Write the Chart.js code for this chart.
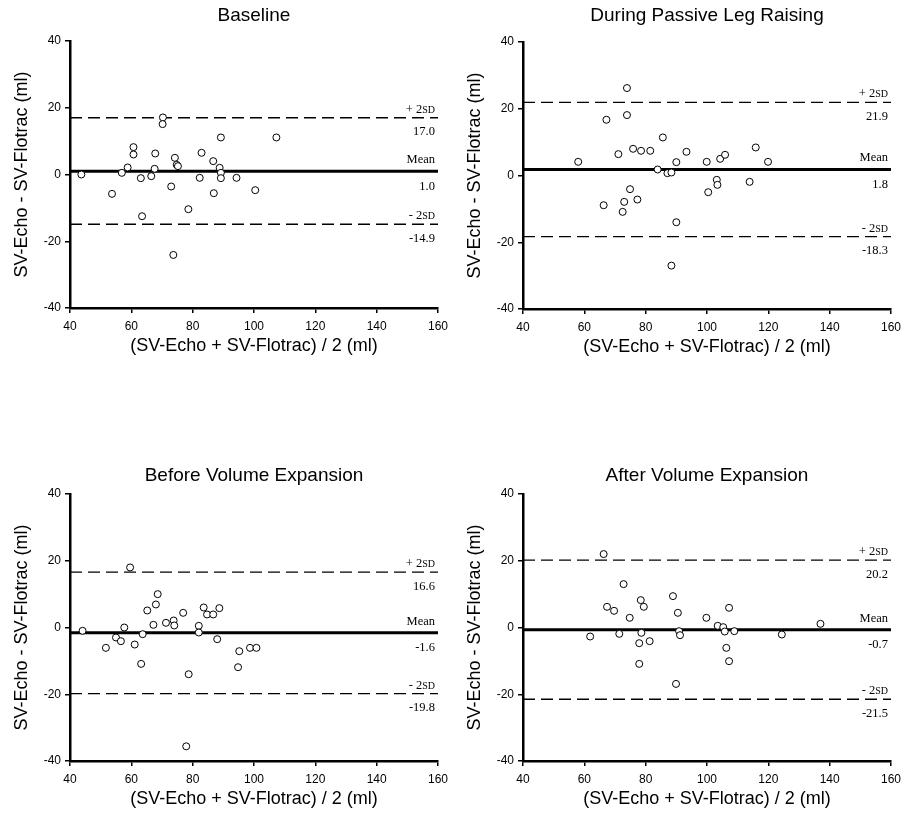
<!DOCTYPE html>
<html>
<head>
<meta charset="utf-8">
<script src="https://cdn.jsdelivr.net/npm/chart.js@4.4.1/dist/chart.umd.min.js"></script>
<style>
  html, body { margin: 0; padding: 0; background: #fff; overflow: hidden; }
  body { width: 908px; height: 817px; position: relative; }
  .panel { position: absolute; width: 454px; height: 365px; }
</style>
</head>
<body>
<div class="panel" style="left:0;top:0"><canvas id="baselineChart"></canvas></div>
<div class="panel" style="left:453px;top:1px"><canvas id="plrChart"></canvas></div>
<div class="panel" style="left:0;top:453px"><canvas id="beforeChart"></canvas></div>
<div class="panel" style="left:453px;top:453px"><canvas id="afterChart"></canvas></div>
<script>
// Bland-Altman plots: SV-Echo vs SV-Flotrac
const panelTitles = [
  "Baseline",
  "During Passive Leg Raising",
  "Before Volume Expansion",
  "After Volume Expansion",
];
const xTitle = "(SV-Echo + SV-Flotrac) / 2 (ml)";
const yTitle = "SV-Echo - SV-Flotrac (ml)";
const xRange = [40, 160];
const yRange = [-40, 40];

// mean / limits of agreement per panel
const meanDiff = [1.0, 1.8, -1.6, -0.7];
const upperLoa = [17.0, 21.9, 16.6, 20.2];
const lowerLoa = [-14.9, -18.3, -19.8, -21.5];

// points (x = average, y = difference)
const baselineX = [43.7, 53.7, 56.9, 58.8, 60.7, 60.7, 63.1, 63.5, 66.5, 67.6, 67.8, 70.3, 70.2, 73.0, 73.7, 74.2, 74.8, 75.2, 78.6, 82.3, 82.9, 86.7, 86.9, 88.8, 89.2, 89.2, 89.2, 94.3, 100.4, 107.3];
const baselineY = [0.0, -5.8, 0.5, 2.1, 8.2, 6.0, -1.1, -12.5, -0.5, 1.7, 6.3, 17.1, 15.1, -3.6, -24.1, 5.0, 2.9, 2.5, -10.4, -1.0, 6.5, 4.0, -5.6, 2.0, 0.5, -1.1, 11.1, -1.0, -4.7, 11.1];

const plrX = [58.0, 66.3, 67.2, 71.1, 72.5, 73.0, 73.9, 73.9, 74.9, 75.9, 77.3, 78.5, 81.5, 83.9, 85.6, 87.1, 88.4, 88.4, 90.0, 90.0, 93.3, 99.9, 100.4, 103.2, 103.4, 104.3, 105.9, 113.9, 115.9, 119.9];
const plrY = [4.1, -8.9, 16.7, 6.4, -10.9, -7.9, 26.2, 18.1, -4.1, 8.0, -7.2, 7.4, 7.4, 1.8, 11.4, 0.7, 0.9, -27.0, 4.0, -14.0, 7.1, 4.1, -5.0, -1.3, -2.8, 5.0, 6.2, -1.9, 8.4, 4.1];

const beforeX = [44.1, 51.7, 55.0, 56.6, 57.7, 59.6, 61.1, 63.2, 63.7, 65.2, 67.2, 68.0, 68.6, 71.3, 73.8, 74.0, 76.9, 77.9, 78.7, 82.0, 82.0, 83.6, 84.7, 86.7, 88.7, 88.0, 94.8, 95.2, 98.7, 100.8];
const beforeY = [-1.0, -6.1, -3.0, -4.1, 0.0, 18.0, -5.1, -10.9, -2.0, 5.1, 0.8, 6.9, 10.0, 1.4, 2.1, 0.6, 4.4, -35.6, -14.0, 0.5, -1.5, 6.0, 3.9, 3.9, 5.8, -3.5, -11.9, -7.1, -6.1, -6.1];

const afterX = [61.9, 66.3, 67.4, 69.7, 71.4, 72.8, 74.8, 77.9, 77.9, 78.4, 78.6, 79.4, 81.3, 88.9, 89.9, 90.5, 90.9, 91.2, 99.8, 103.5, 105.3, 105.8, 106.3, 107.2, 107.2, 108.9, 124.4, 137.0];
const afterY = [-2.7, 22.0, 6.2, 5.0, -1.9, 13.0, 2.9, -4.7, -10.9, 8.2, -1.6, 6.2, -4.1, 9.4, -16.9, 4.4, -1.1, -2.3, 2.9, 0.5, 0.1, -1.2, -6.1, 5.9, -10.1, -1.1, -2.1, 1.1];

const SANS = "'Liberation Sans', Arial, sans-serif";
const SERIF = "'Liberation Serif', 'Times New Roman', serif";

// Draw panel title + line labels (Mean, +/- 2SD)
const panelText = {
  id: "panelText",
  afterDraw(chart, args, opts) {
    const ctx = chart.ctx;
    const area = chart.chartArea;
    const y = chart.scales.y;
    ctx.save();
    ctx.fillStyle = "#000";

    // title
    ctx.font = "19px " + SANS;
    ctx.textAlign = "center";
    ctx.textBaseline = "middle";
    ctx.fillText(opts.title, (area.left + area.right) / 2, area.top - opts.titleGap);

    const right = area.right - 3;
    const sdLabel = (sign, py) => {
      ctx.textAlign = "right";
      ctx.textBaseline = "alphabetic";
      ctx.font = "10px " + SERIF;
      const w = ctx.measureText("SD").width;
      ctx.fillText("SD", right, py);
      ctx.font = "12.5px " + SERIF;
      ctx.fillText(sign + " 2", right - w, py);
    };
    const valueLabel = (txt, py) => {
      ctx.font = "12.5px " + SERIF;
      ctx.textAlign = "right";
      ctx.textBaseline = "top";
      ctx.fillText(txt, right, py);
    };

    const up = y.getPixelForValue(opts.upper);
    sdLabel("+", up - 5);
    valueLabel(opts.upper.toFixed(1), up + 8);

    const mid = y.getPixelForValue(opts.mean);
    ctx.font = "12.5px " + SERIF;
    ctx.textAlign = "right";
    ctx.textBaseline = "alphabetic";
    ctx.fillText("Mean", right, mid - 8);
    valueLabel(opts.mean.toFixed(1), mid + 9);

    const lo = y.getPixelForValue(opts.lower);
    sdLabel("-", lo - 5);
    valueLabel(opts.lower.toFixed(1), lo + 8);

    ctx.restore();
  },
};

function hLine(value, dashed) {
  return {
    type: "line",
    data: [
      { x: xRange[0], y: value },
      { x: xRange[1], y: value },
    ],
    borderColor: "#000",
    borderWidth: dashed ? 1.3 : 3,
    borderDash: dashed ? [12, 6] : [],
    pointRadius: 0,
    order: 2,
  };
}

function makePanel(id, idx, xs, ys, titleGap) {
  const points = xs.map((x, i) => ({ x: x, y: ys[i] }));
  return new Chart(document.getElementById(id), {
    type: "scatter",
    data: {
      datasets: [
        {
          data: points,
          pointRadius: 3.5,
          pointBorderWidth: 1,
          pointBackgroundColor: "#fff",
          pointBorderColor: "#000",
          order: 1,
        },
        hLine(meanDiff[idx], false),
        hLine(upperLoa[idx], true),
        hLine(lowerLoa[idx], true),
      ],
    },
    options: {
      responsive: true,
      maintainAspectRatio: false,
      animation: false,
      layout: { padding: { left: 0, right: 12, top: 41, bottom: 0 } },
      plugins: {
        legend: { display: false },
        tooltip: { enabled: false },
        panelText: {
          title: panelTitles[idx],
          titleGap: titleGap,
          mean: meanDiff[idx],
          upper: upperLoa[idx],
          lower: lowerLoa[idx],
        },
      },
      scales: {
        x: {
          type: "linear",
          min: xRange[0],
          max: xRange[1],
          afterFit: (s) => { s.height = 57; },
          ticks: { stepSize: 20, padding: 6, color: "#000", font: { family: SANS, size: 12 } },
          grid: { drawOnChartArea: false, tickLength: 5, color: "#000", lineWidth: 1.5 },
          border: { color: "#000", width: 2.5 },
          title: { display: true, text: xTitle, color: "#000", padding: { top: 0, bottom: 8 }, font: { family: SANS, size: 18 } },
        },
        y: {
          min: yRange[0],
          max: yRange[1],
          afterFit: (s) => { s.width = 70; },
          ticks: { stepSize: 20, padding: 4, color: "#000", font: { family: SANS, size: 12 } },
          grid: { drawOnChartArea: false, tickLength: 5, color: "#000", lineWidth: 1.5 },
          border: { color: "#000", width: 2.5 },
          title: { display: true, text: yTitle, color: "#000", padding: { top: 11, bottom: 0 }, font: { family: SANS, size: 18 } },
        },
      },
    },
    plugins: [panelText],
  });
}

makePanel("baselineChart", 0, baselineX, baselineY, 25);
makePanel("plrChart", 1, plrX, plrY, 26);
makePanel("beforeChart", 2, beforeX, beforeY, 18);
makePanel("afterChart", 3, afterX, afterY, 18);
</script>
</body>
</html>
